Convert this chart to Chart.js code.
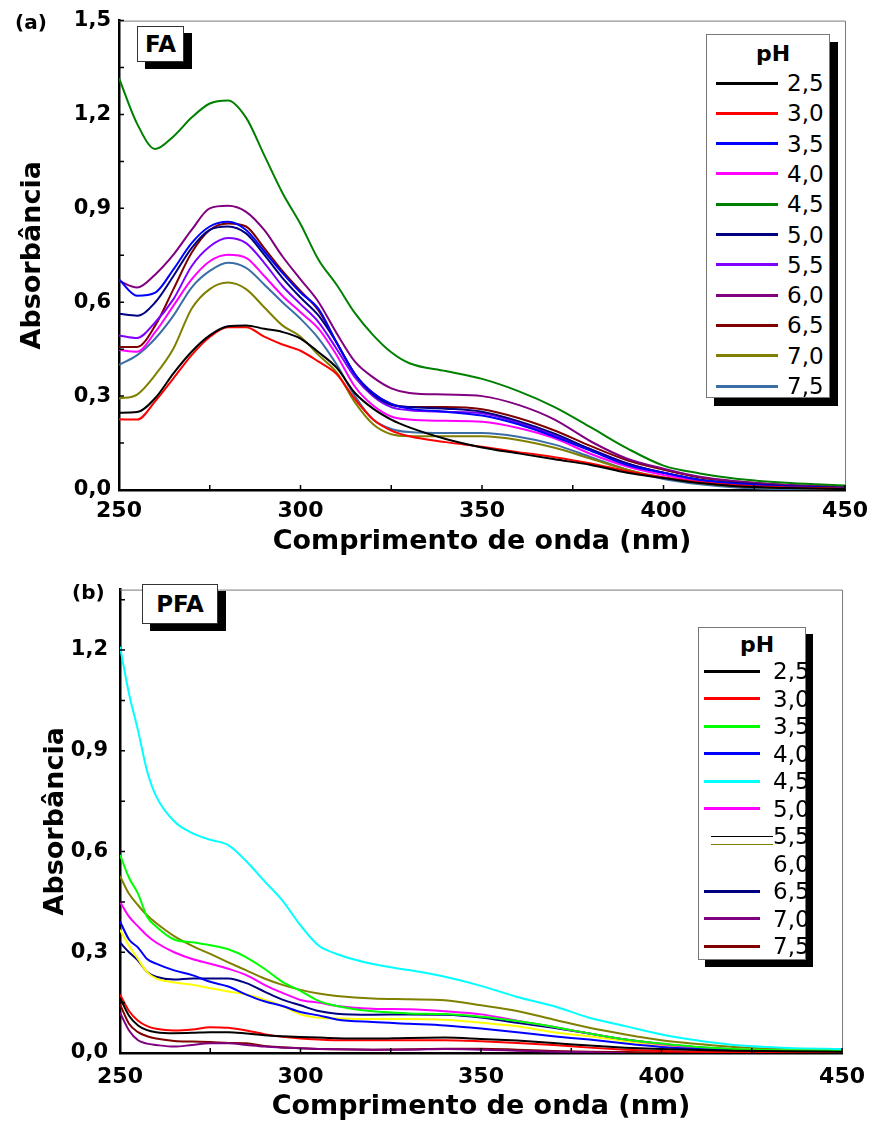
<!DOCTYPE html>
<html lang="pt">
<head>
<meta charset="utf-8">
<title>FA / PFA - Absorbância</title>
<script src="https://cdn.jsdelivr.net/npm/chart.js@4.4.1/dist/chart.umd.min.js"></script>
<style>
  html, body { margin: 0; padding: 0; background: #fff; }
  #page { position: relative; width: 876px; height: 1128px; overflow: hidden;
          font-family: 'DejaVu Sans', sans-serif; color: #000; }
  .panel { position: absolute; left: 0; width: 876px; }
  #panelA { top: 0; height: 565px; }
  #panelB { top: 565px; height: 563px; }
  .tag { position: absolute; font-weight: bold; font-size: 20px; line-height: 1; }
  .namebox { position: absolute; background: #fff; border: 1px solid #333; box-sizing: border-box;
             font-weight: bold; font-size: 23px; display: flex; align-items: center; justify-content: center; }
  .shadow { position: absolute; background: #000; }
  .legbox { position: absolute; background: #fff; border: 1px solid #777; box-sizing: border-box; }
  .legtxt { position: absolute; font-size: 23px; line-height: 1; transform: translateY(-50%); white-space: nowrap; }
  .legline { position: absolute; }
</style>
</head>
<body>
<div id="page">
  <div class="panel" id="panelA"><canvas id="chartFA" width="876" height="565"></canvas></div>
  <div class="panel" id="panelB"><canvas id="chartPFA" width="876" height="563"></canvas></div>
</div>

<script>
// ===== FA / PFA absorbance spectra =====

// ---- Data ----
const phLabels = ['2,5', '3,0', '3,5', '4,0', '4,5', '5,0', '5,5', '6,0', '6,5', '7,0', '7,5'];

// (a) FA
const wavelengthsFA = [250, 255, 260, 265, 270, 275, 280, 285, 290, 295, 300, 305, 310, 315, 320, 325, 330, 340, 350, 360, 370, 380, 390, 400, 410, 420, 435, 450];
const fa25 = [0.247, 0.249, 0.294, 0.373, 0.442, 0.494, 0.523, 0.526, 0.515, 0.505, 0.484, 0.440, 0.390, 0.310, 0.260, 0.225, 0.200, 0.163, 0.136, 0.117, 0.098, 0.080, 0.055, 0.038, 0.022, 0.012, 0.006, 0.003];
const fa30 = [0.226, 0.225, 0.284, 0.357, 0.431, 0.489, 0.520, 0.520, 0.490, 0.465, 0.445, 0.410, 0.370, 0.290, 0.225, 0.190, 0.172, 0.153, 0.138, 0.121, 0.105, 0.085, 0.060, 0.040, 0.025, 0.015, 0.008, 0.004];
const fa35 = [0.673, 0.621, 0.631, 0.705, 0.789, 0.842, 0.857, 0.831, 0.763, 0.694, 0.631, 0.578, 0.470, 0.370, 0.310, 0.275, 0.260, 0.250, 0.238, 0.210, 0.170, 0.125, 0.080, 0.055, 0.032, 0.020, 0.010, 0.005];
const fa40 = [0.447, 0.442, 0.505, 0.589, 0.673, 0.731, 0.752, 0.742, 0.684, 0.621, 0.568, 0.515, 0.430, 0.330, 0.270, 0.235, 0.225, 0.221, 0.218, 0.198, 0.165, 0.115, 0.075, 0.048, 0.028, 0.016, 0.008, 0.004];
const fa45 = [1.316, 1.170, 1.090, 1.130, 1.190, 1.235, 1.245, 1.190, 1.070, 0.950, 0.850, 0.735, 0.655, 0.565, 0.495, 0.440, 0.405, 0.380, 0.355, 0.316, 0.265, 0.200, 0.133, 0.078, 0.053, 0.036, 0.022, 0.014];
const fa50 = [0.563, 0.557, 0.600, 0.684, 0.773, 0.831, 0.842, 0.820, 0.752, 0.678, 0.615, 0.557, 0.470, 0.370, 0.305, 0.272, 0.265, 0.260, 0.250, 0.220, 0.180, 0.130, 0.085, 0.055, 0.033, 0.022, 0.012, 0.007];
const fa55 = [0.494, 0.486, 0.536, 0.610, 0.715, 0.778, 0.805, 0.789, 0.726, 0.652, 0.594, 0.536, 0.450, 0.360, 0.300, 0.265, 0.255, 0.250, 0.245, 0.215, 0.175, 0.130, 0.085, 0.055, 0.032, 0.020, 0.010, 0.005];
const fa60 = [0.668, 0.647, 0.689, 0.752, 0.831, 0.900, 0.908, 0.889, 0.831, 0.747, 0.673, 0.600, 0.500, 0.410, 0.360, 0.325, 0.310, 0.305, 0.300, 0.272, 0.225, 0.155, 0.100, 0.068, 0.042, 0.028, 0.016, 0.010];
const fa65 = [0.457, 0.457, 0.526, 0.642, 0.758, 0.831, 0.852, 0.842, 0.773, 0.700, 0.636, 0.573, 0.470, 0.370, 0.310, 0.275, 0.265, 0.265, 0.258, 0.230, 0.190, 0.140, 0.095, 0.065, 0.040, 0.027, 0.015, 0.010];
const fa70 = [0.292, 0.305, 0.368, 0.452, 0.579, 0.642, 0.663, 0.642, 0.584, 0.526, 0.490, 0.431, 0.375, 0.280, 0.210, 0.178, 0.172, 0.172, 0.172, 0.160, 0.135, 0.100, 0.065, 0.040, 0.022, 0.012, 0.006, 0.003];
const fa75 = [0.400, 0.431, 0.484, 0.557, 0.647, 0.700, 0.726, 0.710, 0.657, 0.600, 0.547, 0.484, 0.400, 0.300, 0.225, 0.195, 0.185, 0.182, 0.182, 0.170, 0.145, 0.105, 0.065, 0.035, 0.018, 0.008, 0.002, 0.000];

// (b) PFA
const wavelengthsPFA = [250, 252.5, 255, 257.5, 260, 265, 270, 275, 280, 285, 290, 295, 300, 305, 310, 320, 330, 340, 350, 360, 370, 380, 390, 400, 410, 420, 435, 450];
const pfa25 = [0.164, 0.111, 0.082, 0.068, 0.062, 0.059, 0.060, 0.062, 0.062, 0.058, 0.053, 0.050, 0.048, 0.046, 0.044, 0.043, 0.045, 0.046, 0.042, 0.037, 0.030, 0.022, 0.016, 0.012, 0.009, 0.007, 0.005, 0.004];
const pfa30 = [0.174, 0.125, 0.096, 0.080, 0.072, 0.067, 0.070, 0.077, 0.075, 0.067, 0.056, 0.048, 0.043, 0.040, 0.038, 0.038, 0.038, 0.038, 0.035, 0.030, 0.024, 0.016, 0.010, 0.006, 0.004, 0.003, 0.002, 0.002];
const pfa35 = [0.590, 0.522, 0.474, 0.406, 0.377, 0.338, 0.330, 0.321, 0.309, 0.285, 0.251, 0.212, 0.185, 0.155, 0.140, 0.124, 0.118, 0.116, 0.108, 0.095, 0.078, 0.058, 0.040, 0.028, 0.018, 0.012, 0.008, 0.006];
const pfa40 = [0.392, 0.338, 0.314, 0.280, 0.266, 0.246, 0.232, 0.212, 0.198, 0.174, 0.154, 0.140, 0.122, 0.112, 0.100, 0.092, 0.087, 0.082, 0.073, 0.062, 0.050, 0.040, 0.028, 0.018, 0.012, 0.008, 0.005, 0.004];
const pfa45 = [1.210, 1.070, 0.960, 0.840, 0.765, 0.690, 0.655, 0.635, 0.619, 0.571, 0.512, 0.454, 0.380, 0.320, 0.295, 0.265, 0.247, 0.227, 0.200, 0.167, 0.140, 0.105, 0.080, 0.055, 0.037, 0.024, 0.015, 0.012];
const pfa50 = [0.450, 0.406, 0.377, 0.350, 0.329, 0.300, 0.280, 0.266, 0.251, 0.232, 0.203, 0.179, 0.158, 0.150, 0.140, 0.132, 0.130, 0.124, 0.115, 0.096, 0.078, 0.058, 0.040, 0.026, 0.016, 0.010, 0.007, 0.005];
const pfa55 = [0.367, 0.319, 0.280, 0.241, 0.222, 0.210, 0.203, 0.193, 0.183, 0.174, 0.159, 0.140, 0.115, 0.105, 0.103, 0.101, 0.101, 0.099, 0.090, 0.080, 0.062, 0.050, 0.035, 0.024, 0.016, 0.011, 0.008, 0.007];
const pfa60 = [0.527, 0.474, 0.440, 0.410, 0.387, 0.348, 0.319, 0.295, 0.270, 0.246, 0.222, 0.203, 0.188, 0.177, 0.170, 0.162, 0.160, 0.157, 0.142, 0.125, 0.100, 0.075, 0.055, 0.038, 0.027, 0.018, 0.012, 0.009];
const pfa65 = [0.329, 0.300, 0.275, 0.241, 0.227, 0.219, 0.222, 0.222, 0.222, 0.208, 0.183, 0.159, 0.142, 0.125, 0.117, 0.114, 0.115, 0.114, 0.106, 0.090, 0.075, 0.058, 0.040, 0.027, 0.017, 0.011, 0.007, 0.005];
const pfa70 = [0.120, 0.067, 0.038, 0.028, 0.024, 0.019, 0.024, 0.029, 0.029, 0.024, 0.019, 0.016, 0.014, 0.012, 0.011, 0.010, 0.010, 0.012, 0.010, 0.007, 0.004, 0.002, 0.000, null, null, null, null, null];
const pfa75 = [0.145, 0.087, 0.062, 0.050, 0.043, 0.036, 0.034, 0.033, 0.030, 0.029, 0.021, 0.017, 0.014, 0.012, 0.011, 0.010, 0.011, 0.013, 0.013, 0.010, 0.006, 0.004, 0.003, 0.002, 0.001, 0.001, 0.001, 0.001];

const faSeries  = [fa25, fa30, fa35, fa40, fa45, fa50, fa55, fa60, fa65, fa70, fa75];
const pfaSeries = [pfa25, pfa30, pfa35, pfa40, pfa45, pfa50, pfa55, pfa60, pfa65, pfa70, pfa75];

// ---- Colours ----
const faColors  = ['#000000', '#ff0000', '#0000ff', '#ff00ff', '#008000', '#000080', '#8000ff', '#800080', '#800000', '#808000', '#3b6ea5'];
const pfaColors = ['#000000', '#ff0000', '#00ff00', '#0000ff', '#00ffff', '#ff00ff', '#ffff00', '#808000', '#000080', '#800080', '#800000'];

const FONT = 'DejaVu Sans';

// ---- Helpers ----
function toPoints(xs, ys) {
    return xs.map((x, i) => ({ x: x, y: ys[i] }));
}

function buildDatasets(xs, series, colors) {
    return series.map((ys, i) => ({
        label: phLabels[i],
        data: toPoints(xs, ys),
        borderColor: colors[i],
        borderWidth: 2,
        pointRadius: 0,
        fill: false,
        cubicInterpolationMode: 'monotone',
    }));
}

// gray frame on top/right + small inward ticks on the axes
const frameTicks = {
    id: 'frameTicks',
    afterDraw(chart, args, opts) {
        const { ctx, chartArea: a, scales: { x, y } } = chart;
        ctx.save();
        ctx.strokeStyle = '#7a7a7a';
        ctx.lineWidth = 1;
        ctx.beginPath();
        ctx.moveTo(a.left, a.top + 0.5);
        ctx.lineTo(a.right + 0.5, a.top + 0.5);
        ctx.lineTo(a.right + 0.5, a.bottom);
        ctx.stroke();

        ctx.strokeStyle = '#000';
        ctx.lineWidth = 1.5;
        ctx.beginPath();
        for (let v = x.min; v <= x.max + 1e-9; v += opts.xStep) {
            const px = x.getPixelForValue(v);
            ctx.moveTo(px, a.bottom);
            ctx.lineTo(px, a.bottom - 5);
        }
        for (let v = y.min; v <= y.max + 1e-9; v += opts.yStep) {
            const py = y.getPixelForValue(v);
            ctx.moveTo(a.left, py);
            ctx.lineTo(a.left + 5, py);
        }
        ctx.stroke();
        ctx.restore();
    }
};

function makeChart(canvasId, xs, series, colors, yMax, geo) {
    return new Chart(document.getElementById(canvasId), {
        type: 'line',
        data: { datasets: buildDatasets(xs, series, colors) },
        options: {
            responsive: false,
            animation: false,
            layout: { padding: { left: 0, top: geo.top, right: geo.right, bottom: 0 } },
            plugins: {
                legend: { display: false },
                tooltip: { enabled: false },
                frameTicks: { xStep: 25, yStep: 0.15 },
            },
            scales: {
                x: {
                    type: 'linear', min: 250, max: 450,
                    grid: { display: false, drawTicks: false },
                    border: { color: '#000', width: 2.5 },
                    ticks: {
                        stepSize: 50, padding: geo.xPad, color: '#000', maxRotation: 0,
                        font: { family: FONT, weight: 'bold', size: 22 }
                    },
                    title: {
                        display: true, text: 'Comprimento de onda (nm)', color: '#000',
                        font: { family: FONT, weight: 'bold', size: 27 },
                        padding: { top: 0, bottom: geo.xTitleBottom }
                    },
                    afterFit: s => { s.height = geo.xHeight; }
                },
                y: {
                    min: 0, max: yMax,
                    grid: { display: false, drawTicks: false },
                    border: { color: '#000', width: 2.5 },
                    ticks: {
                        stepSize: 0.3, includeBounds: false, padding: geo.yPad, color: '#000',
                        font: { family: FONT, weight: 'bold', size: 21 },
                        callback: v => v.toFixed(1).replace('.', ',')
                    },
                    title: {
                        display: true, text: 'Absorbância', color: '#000',
                        font: { family: FONT, weight: 'bold', size: 27 },
                        padding: { top: geo.yTitleTop, bottom: 0 }
                    },
                    afterFit: s => { s.width = geo.yWidth; }
                }
            }
        },
        plugins: [frameTicks]
    });
}

// ---- Overlays (panel tags, name boxes, legends) ----
const page = document.getElementById('page');

function addDiv(cls, css, text) {
    const d = document.createElement('div');
    d.className = cls;
    Object.assign(d.style, css);
    if (text !== undefined) d.textContent = text;
    page.appendChild(d);
    return d;
}

function px(n) { return n + 'px'; }

function nameBox(l, t, r, b, dx, dy, text) {
    addDiv('shadow', { left: px(l + dx), top: px(t + dy), width: px(r - l), height: px(b - t) });
    addDiv('namebox', { left: px(l), top: px(t), width: px(r - l), height: px(b - t) }, text);
}

function legend(box, colors, swatch) {
    addDiv('legbox', { left: px(box.l), top: px(box.t), width: px(box.r - box.l), height: px(box.b - box.t) });
    addDiv('legtxt', { left: px(box.phX), top: px(box.phY), fontWeight: 'bold', fontSize: '22px',
                       transform: 'translate(-50%, -50%)' }, 'pH');
    phLabels.forEach((lab, i) => {
        const y = box.row0 + i * box.rowStep;
        const kind = swatch ? swatch[i] : 'line';
        if (kind === 'line') {
            addDiv('legline', { left: px(box.lineL), top: px(y - 1.5), width: px(box.lineR - box.lineL),
                                height: '3px', background: colors[i] });
        } else if (kind === 'double') {
            addDiv('legline', { left: px(box.lineL + 7), top: px(y), width: px(box.lineR - box.lineL + 6),
                                height: '1px', background: '#000' });
            addDiv('legline', { left: px(box.lineL + 7), top: px(y + 8), width: px(box.lineR - box.lineL + 6),
                                height: '1px', background: colors[i + 1] });
        }
        addDiv('legtxt', { left: px(box.txtL), top: px(y) }, lab);
    });
    // drop shadow drawn over the box edge
    addDiv('shadow', { left: px(box.r), top: px(box.t + box.sh), width: px(box.sh), height: px(box.b - box.t) });
    addDiv('shadow', { left: px(box.l + box.sh), top: px(box.b), width: px(box.r - box.l), height: px(box.sh) });
}

// ---- Init ----
makeChart('chartFA', wavelengthsFA, faSeries, faColors, 1.5,
    { top: 15, right: 29, xHeight: 75, yWidth: 119, xPad: 8, yPad: 8, xTitleBottom: 7, yTitleTop: 17 });
makeChart('chartPFA', wavelengthsPFA, pfaSeries, pfaColors, 1.38,
    { top: 13, right: 28, xHeight: 75, yWidth: 120, xPad: 11, yPad: 12, xTitleBottom: 5, yTitleTop: 40 });

addDiv('tag', { left: '15px', top: '12px' }, '(a)');
addDiv('tag', { left: '72px', top: '582px' }, '(b)');
nameBox(137, 26, 184, 62, 8, 7, 'FA');
nameBox(142, 584, 218, 624, 8, 7, 'PFA');

legend({ l: 706, t: 34, r: 830, b: 398, sh: 8, phX: 773, phY: 54,
         row0: 83, rowStep: 30.3, lineL: 716, lineR: 778, txtL: 787 }, faColors);
legend({ l: 698, t: 627, r: 806, b: 960, sh: 7, phX: 757, phY: 645,
         row0: 671, rowStep: 27.5, lineL: 704, lineR: 760, txtL: 773 }, pfaColors,
       ['line', 'line', 'line', 'line', 'line', 'line', 'double', 'none', 'line', 'line', 'line']);
</script>
</body>
</html>
